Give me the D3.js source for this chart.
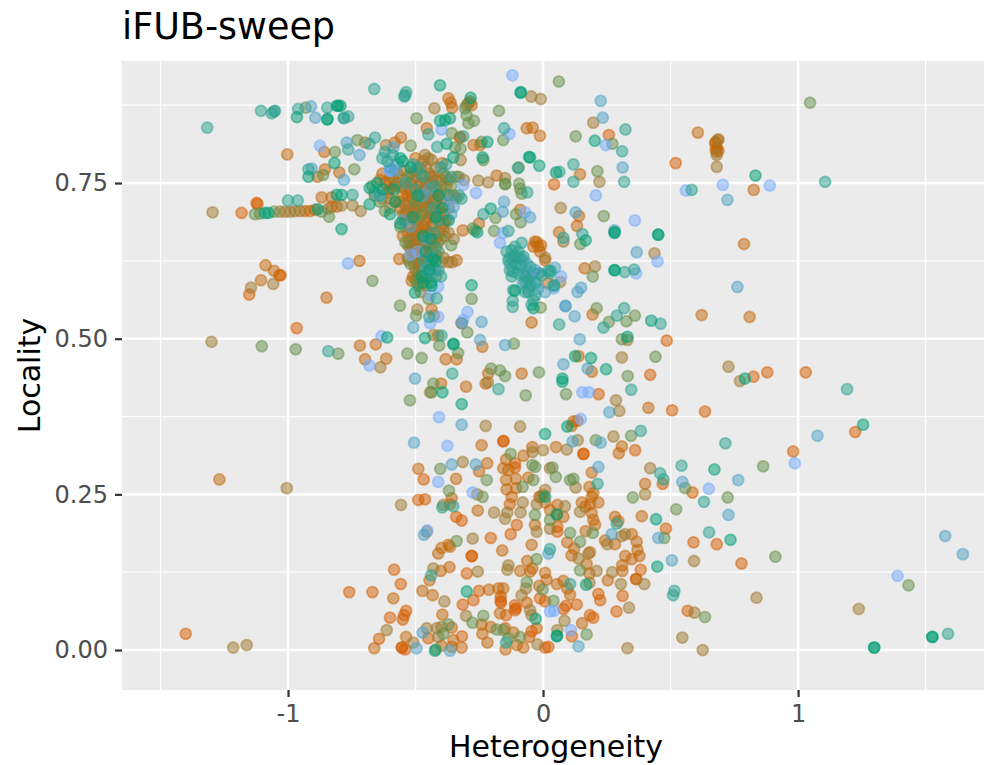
<!DOCTYPE html>
<html>
<head>
<meta charset="utf-8">
<script src="https://cdn.jsdelivr.net/npm/d3@7"></script>
<style>
  html, body { margin: 0; padding: 0; background: #fff; }
  text { font-family: "DejaVu Sans", sans-serif; }
</style>
</head>
<body>
<script>
// [heterogeneity, locality], one array per colour group
const bluePts = [[-.875,.81],[-.398,.836],[-.132,.829],[-.12,.923],[-.6,.77],[-.6,.77],[-.595,.772],[-.52,.635],[-.37,.72],[-.64,.73],[-.49,.64],[-.263,.734],[-.313,.747],[-.071,.703],[-.156,.67],[-.169,.654],[-.765,.621],[-.411,.584],[-.443,.57],[-.411,.535],[-.443,.525],[-.313,.53],[-.296,.543],[-.633,.504],[-.681,.457],[.246,.811],[.36,.69],[.449,.624],[.365,.605],[.071,.6],[.043,.581],[.56,.738],[.705,.747],[.889,.746],[.154,.414],[.18,.414],[.148,.371],[.987,.3],[.65,.259],[1.39,.119],[.043,.063],[.109,.032],[-.408,.374],[-.375,.328],[-.411,.27],[-.276,.253],[-.454,.192],[.027,.062],[.207,.73]];
const skyPts = [[-.91,.873],[-.893,.855],[-.77,.815],[-.72,.795],[-.587,.807],[-.781,.755],[-.907,.773],[-.153,.72],[-.158,.704],[-.051,.695],[-.6,.775],[-.58,.77],[-.57,.78],[-.47,.73],[-.45,.74],[-.52,.68],[-.55,.69],[-.46,.66],[-.44,.63],[-.46,.61],[-.44,.605],[-.42,.61],[-.36,.7],[-.35,.712],[-.117,.626],[-.077,.626],[-.064,.621],[-.077,.605],[-.058,.605],[-.038,.605],[-.018,.605],[-.025,.589],[.008,.575],[-.509,.518],[-.319,.525],[-.241,.527],[-.247,.498],[-.149,.49],[-.502,.436],[.226,.882],[.234,.855],[.312,.775],[.128,.703],[.28,.674],[.367,.639],[.149,.582],[.135,.575],[.088,.552],[.088,.553],[.124,.536],[.144,.499],[.08,.459],[.175,.452],[.723,.723],[.762,.583],[.26,.382],[1.076,.344],[.765,.273],[.546,.27],[.727,.217],[.505,.144],[1.577,.183],[1.646,.154],[.139,.006],[.217,.294],[.269,.186],[.452,.18],[.116,.335],[.226,.333],[-.319,.362],[-.506,.333],[-.358,.298],[-.264,.298],[-.467,.185],[-.472,.028],[-.496,.003],[-.365,-.001],[.021,.155],[.047,.614],[-.1,.63],[-.085,.615],[-.06,.61],[-.045,.6],[-.03,.61],[-.08,.59],[-.06,.58],[-.02,.58],[-.13,.62]];
const tealPts = [[-1.317,.839],[-1.106,.866],[-1.064,.862],[-1.051,.866],[-1.055,.865],[-.96,.869],[-.846,.871],[-.781,.855],[-.764,.857],[-.781,.854],[-.662,.901],[-.537,.896],[-.544,.889],[-.541,.891],[-.45,.828],[-.153,.838],[-.764,.804],[-.681,.813],[-.659,.823],[-.415,.808],[-.313,.825],[-.92,.772],[-.062,.735],[-.234,.7],[-.136,.673],[-.084,.654],[-1.0,.722],[-.962,.722],[-.747,.731],[-.143,.64],[-.123,.642],[-.11,.648],[-.097,.64],[-.136,.626],[-.11,.632],[-.077,.632],[-.119,.608],[-.123,.6],[-.071,.591],[-.058,.594],[-.117,.578],[-.058,.575],[-.038,.562],[-.045,.554],[-.119,.561],[-.119,.551],[-.005,.602],[.027,.605],[.021,.609],[-.66,.735],[-.64,.73],[-.62,.8],[-.63,.79],[-.61,.785],[-.59,.795],[-.51,.78],[-.49,.775],[-.47,.76],[-.43,.745],[-.4,.775],[-.38,.78],[-.36,.76],[-.43,.71],[-.41,.69],[-.43,.67],[-.42,.645],[-.47,.625],[-.45,.62],[-.5,.74],[-.54,.75],[-.37,.73],[-.33,.73],[-.32,.725],[-.41,.61],[-.4,.6],[-.417,.565],[-.446,.535],[-.398,.505],[-.842,.48],[-.356,.444],[.323,.836],[.31,.801],[.119,.78],[.064,.768],[.119,.752],[.318,.752],[.08,.662],[.154,.668],[.03,.609],[.32,.607],[.357,.611],[.043,.585],[.043,.586],[.318,.549],[.289,.537],[.237,.518],[.461,.524],[.063,.523],[.583,.739],[1.106,.752],[.346,.418],[1.192,.419],[.715,.332],[.543,.296],[.631,.238],[.651,.189],[.51,.088],[.515,.095],[1.588,.026],[.106,.106],[.459,.284],[.472,.274],[.214,.267],[.383,.352],[.289,.203],[-.175,.419],[-.395,.229],[-.352,.231],[-.439,.12],[-.145,.012],[.027,.162],[-.098,.774],[-.09,.618],[-.13,.63],[-.105,.62],[-.09,.63],[-.13,.61],[-.1,.605],[-.07,.6],[-.05,.615],[-.03,.59],[-.05,.585],[-.07,.575],[-.03,.57]];
const greenPts = [[-.965,.856],[-.846,.852],[-.845,.853],[-.803,.874],[-.794,.874],[-.809,.874],[-.404,.907],[-.088,.895],[-.087,.896],[-.284,.887],[-.404,.85],[-.384,.851],[-.365,.854],[-.378,.813],[-.352,.791],[-.218,.816],[-.237,.791],[-.051,.791],[-.015,.778],[-.818,.782],[-.92,.76],[-.205,.709],[-.258,.671],[-1.09,.702],[-1.077,.702],[-.884,.708],[-.809,.731],[-.79,.731],[-.79,.676],[-.28,.586],[-.502,.574],[-.437,.585],[-.463,.501],[-.352,.491],[-.351,.492],[-.611,.502],[-.11,.577],[-.038,.549],[-.68,.742],[-.68,.716],[-.585,.74],[-.58,.72],[-.63,.74],[-.56,.685],[-.51,.695],[-.47,.665],[-.43,.628],[-.445,.61],[-.42,.625],[-.395,.71],[-.42,.695],[-.37,.69],[-.46,.64],[-.475,.6],[-.44,.66],[-.56,.79],[-.55,.785],[-.44,.59],[-.47,.59],[-.41,.73],[-.49,.73],[-.52,.775],[-.6,.7],[-.65,.75],[.203,.818],[.051,.767],[.167,.658],[.28,.67],[.281,.671],[.451,.667],[.452,.667],[.28,.61],[.281,.61],[.424,.529],[.331,.503],[.126,.472],[.188,.469],[.247,.451],[.076,.436],[.792,.436],[.833,.762],[.076,.431],[1.255,.362],[.672,.29],[.735,.177],[.448,.134],[1.298,.004],[1.299,.004],[1.526,.021],[1.527,.021],[.054,.022],[.055,.023],[.169,.105],[.443,.21],[.054,.218],[.095,.359],[-.395,.414],[-.319,.395],[.008,.347],[-.299,.094],[-.029,.05],[-.424,-.001],[.008,.246],[-.055,.792]];
const sagePts = [[-.931,.871],[-.496,.854],[-.173,.866],[-.306,.87],[-.3,.859],[-.271,.85],[-.293,.846],[-.156,.819],[-.816,.8],[-.728,.819],[-.519,.81],[-.358,.83],[-.345,.807],[-.323,.805],[-.234,.787],[-.241,.816],[-.096,.775],[-.862,.763],[-.74,.772],[-.149,.748],[-.148,.749],[-.094,.749],[-.09,.741],[-.084,.733],[-.186,.694],[-.106,.7],[-.088,.687],[-.276,.677],[-.267,.674],[-.192,.673],[-1.13,.7],[-1.11,.701],[-1.055,.704],[-.868,.704],[-.839,.696],[-.669,.593],[-.496,.591],[-.28,.564],[-.45,.564],[-.561,.553],[-.498,.537],[-.297,.51],[-.114,.492],[-.407,.489],[-1.103,.488],[-.97,.483],[-.803,.476],[-.532,.476],[-.476,.469],[-.333,.477],[-.204,.452],[-.169,.449],[-.149,.44],[-.016,.446],[-.009,.55],[-.64,.72],[-.62,.705],[-.53,.76],[-.48,.765],[-.38,.76],[-.36,.745],[-.33,.76],[-.4,.745],[-.5,.72],[-.56,.68],[-.54,.655],[-.475,.7],[-.4,.66],[-.36,.65],[-.49,.605],[-.47,.61],[-.45,.6],[-.49,.585],[-.42,.6],[-.41,.64],[-.67,.745],[-.52,.62],[-.014,.605],[.062,.913],[.128,.825],[.272,.813],[.213,.769],[.238,.697],[.146,.652],[.195,.6],[.21,.549],[.36,.537],[.258,.527],[.327,.528],[.309,.499],[.441,.471],[.332,.44],[.09,.411],[1.047,.879],[.863,.295],[.557,.26],[.724,.245],[.522,.226],[.911,.15],[1.433,.104],[.635,.053],[.171,.025],[.041,.079],[.106,.273],[.119,.275],[.195,.188],[.106,.188],[.145,.174],[.145,.128],[.037,.293],[.05,.278],[.207,.337],[.345,.344],[.352,.245],[.476,.18],[-.522,.401],[-.437,.414],[-.43,.428],[-.068,.409],[-.127,.315],[-.403,.291],[-.221,.273],[-.038,.273],[-.369,.256],[-.042,.297],[-.031,.294],[-.08,.262],[-.237,.246],[-.032,.217],[-.339,.175],[-.025,.146],[-.064,.109],[-.002,.097],[-.277,.044],[-.234,.055],[-.182,.033],[-.156,.032],[-.371,.041],[-.391,.026],[-.42,.001],[-.136,.019],[-.09,.021],[.027,.209]];
const tanPts = [[-1.296,.703],[-1.3,.495],[-.426,.87],[-.046,.889],[-.009,.885],[-.286,.881],[-.3,.875],[-.698,.815],[-.616,.811],[-.463,.795],[-.45,.79],[-.437,.787],[-.323,.787],[-1.032,.704],[-1.012,.704],[-.992,.704],[-.973,.705],[-.953,.705],[-.842,.709],[-.79,.714],[-.747,.714],[-.715,.705],[-1.145,.582],[-1.058,.588],[-.528,.626],[-.398,.623],[-.493,.547],[-.428,.537],[-.43,.506],[-.411,.505],[-.638,.454],[-.254,.754],[-.215,.751],[-.56,.745],[-.51,.755],[-.46,.775],[-.42,.775],[-.31,.755],[-.44,.72],[-.54,.69],[-.52,.645],[-.5,.69],[-.43,.7],[-.37,.67],[-.35,.66],[-.47,.66],[-.48,.6],[-.43,.63],[-.5,.595],[-.46,.585],[-.39,.63],[-.6,.725],[-.66,.73],[-.53,.63],[-.34,.76],[-.356,.623],[.197,.847],[.221,.752],[.069,.71],[.08,.656],[.204,.616],[.067,.591],[.331,.498],[.309,.47],[.437,.637],[.688,.82],[.681,.795],[.681,.776],[.727,.455],[.772,.432],[.286,.401],[.299,.384],[.084,.047],[.056,.032],[-1.005,.26],[-1.215,.004],[-1.162,.008],[1.238,.066],[.837,.084],[.546,.02],[.626,0],[.331,.003],[.337,.068],[.594,.06],[.592,.143],[.182,.108],[.271,.125],[.305,.106],[.397,.106],[.252,.17],[.322,.186],[.309,.183],[.42,.292],[.4,.25],[.128,.261],[.145,.222],[.178,.155],[.139,.147],[.21,.127],[.086,.231],[.093,.322],[.136,.337],[.276,.343],[-.443,.414],[-.225,.36],[-.09,.359],[-.315,.302],[-.042,.318],[0,.321],[-.456,.19],[-.557,.233],[-.391,.233],[-.258,.25],[-.08,.237],[-.025,.234],[-.192,.221],[-.149,.211],[-.14,.221],[-.088,.221],[-.025,.19],[-.276,.179],[-.43,.131],[-.387,.078],[-.256,.126],[-.14,.129],[-.136,.136],[-.067,.099],[-.084,.088],[-.051,.064],[-.045,.056],[-.302,.055],[-.613,.032],[-.509,.012],[-.456,.035],[-.417,.035],[-.398,.037],[-.411,.021],[-.022,.009],[.008,.257],[-.009,.246],[.027,.195],[.027,.292],[.008,.63],[-.149,.758],[-.216,.43],[-.55,.7],[-.52,.71],[-.5,.7],[-.47,.715],[-.45,.725],[-.43,.725],[-.41,.71],[-.39,.675],[-.37,.71],[-.38,.73],[-.4,.735],[-.42,.755],[-.44,.76],[-.46,.76],[-.48,.775],[-.5,.77],[-.52,.765],[-.55,.755],[-.57,.75],[-.59,.76],[-.51,.64],[-.49,.635],[-.47,.605],[-.45,.61],[-.43,.61],[-.48,.575],[-.46,.6],[-.5,.655],[-.48,.66],[-.46,.65],[-.44,.68],[-.51,.67],[-.53,.65],[-.49,.69],[-.47,.725],[-.54,.715],[-.6,.71],[-.63,.725]];
const amberPts = [[-.371,.886],[-.362,.879],[-.356,.871],[-.28,.875],[-.293,.878],[-.456,.838],[-.064,.838],[-.041,.839],[-.012,.826],[-1.003,.796],[-.858,.8],[-.581,.815],[-.557,.823],[-.395,.782],[-.326,.823],[-.325,.824],[-.273,.811],[-.247,.811],[-.855,.772],[-.884,.76],[-.799,.767],[-.182,.762],[-.09,.707],[-.251,.685],[-.315,.674],[-.934,.705],[-.914,.705],[-.894,.707],[-.829,.712],[-.809,.712],[-.868,.727],[-.829,.727],[-1.088,.618],[-1.055,.609],[-1.106,.594],[-.849,.566],[-.72,.625],[-.564,.628],[-.339,.626],[-.371,.623],[-.515,.593],[-.437,.547],[-.319,.525],[-.045,.526],[-.238,.487],[-.718,.489],[-.656,.491],[-.698,.467],[-.615,.468],[-.382,.467],[-.339,.467],[-.215,.444],[-.084,.444],[-.032,.656],[-.012,.64],[-.018,.648],[-.038,.648],[.008,.626],[-.6,.76],[-.63,.765],[-.6,.75],[-.61,.735],[-.57,.765],[-.545,.77],[-.5,.79],[-.47,.785],[-.445,.765],[-.43,.76],[-.46,.75],[-.49,.745],[-.52,.74],[-.55,.73],[-.51,.725],[-.48,.72],[-.46,.71],[-.5,.705],[-.53,.705],[-.56,.71],[-.47,.73],[-.44,.735],[-.42,.72],[-.39,.7],[-.38,.69],[-.385,.665],[-.4,.68],[-.43,.685],[-.46,.69],[-.49,.68],[-.52,.68],[-.55,.665],[-.525,.66],[-.5,.665],[-.48,.65],[-.5,.645],[-.475,.635],[-.46,.62],[-.49,.62],[-.505,.63],[-.45,.67],[-.42,.66],[-.44,.65],[-.41,.7],[-.58,.72],[-.35,.73],[-.34,.726],[-.37,.755],[-.39,.765],[.145,.764],[.141,.697],[.133,.681],[.063,.671],[.163,.613],[.194,.539],[.139,.472],[.191,.447],[.607,.831],[.677,.816],[.685,.819],[.675,.814],[.681,.807],[.677,.804],[.688,.802],[.681,.8],[.826,.739],[.788,.652],[.622,.538],[.81,.535],[.413,.389],[-1.269,.274],[.153,.043],[.106,.089],[.095,.099],[.08,.111],[.054,.106],[.254,.112],[.365,.114],[.311,.127],[.31,.136],[.322,.151],[.348,.146],[.378,.151],[.37,.161],[.367,.174],[.348,.186],[.282,.17],[.243,.176],[.282,.214],[.295,.207],[.387,.215],[.4,.267],[.191,.285],[.182,.262],[.197,.252],[.191,.246],[.217,.237],[.152,.237],[.184,.234],[.165,.23],[.191,.22],[.197,.209],[.204,.201],[.167,.191],[.095,.173],[.122,.163],[.184,.157],[.112,.152],[.171,.138],[.182,.123],[.054,.217],[.08,.214],[.056,.233],[.051,.326],[.119,.367],[.135,.368],[.112,.36],[.309,.327],[.297,.316],[-.302,.423],[-.225,.428],[-.4,.428],[-.241,.329],[-.042,.326],[-.077,.312],[-.145,.306],[-.156,.292],[-.136,.289],[-.489,.291],[-.219,.3],[-.251,.287],[-.341,.275],[-.145,.273],[-.106,.275],[-.058,.277],[-.143,.258],[-.106,.26],[-.358,.244],[-.365,.234],[-.123,.246],[-.015,.246],[.001,.249],[-.256,.224],[-.032,.201],[-.365,.166],[-.371,.169],[-.398,.164],[-.411,.155],[-.045,.169],[-.16,.16],[-.401,.127],[-.367,.133],[-.445,.112],[-.587,.083],[-.473,.095],[-.433,.088],[-.09,.127],[-.051,.126],[-.042,.131],[-.062,.143],[.008,.124],[.014,.113],[-.015,.103],[-.212,.097],[-.175,.099],[-.156,.099],[-.169,.059],[-.395,.057],[-.241,.041],[-.205,.037],[-.116,.028],[-.238,.026],[-.218,.012],[-.662,.003],[-.537,.021],[-.358,.036],[-.352,.016],[-.398,.007],[-.358,.005],[-.319,.004],[-.147,.001],[-.103,.008],[-.077,.004],[.008,.237],[.027,.225],[-.024,.655],[-.008,.65],[.02,.589],[-.53,.72],[-.51,.71],[-.49,.71],[-.47,.7],[-.45,.695],[-.43,.695],[-.41,.67],[-.39,.685],[-.52,.695],[-.5,.675],[-.48,.67],[-.46,.675],[-.53,.67],[-.51,.65],[-.49,.655],[-.47,.645],[-.45,.64],[-.43,.64],[-.41,.655],[-.5,.61],[-.48,.615],[-.46,.63],[-.44,.62],[-.42,.635],[-.51,.6],[-.48,.59],[-.49,.6],[-.505,.62],[-.52,.65],[-.54,.7],[-.56,.72],[-.54,.74],[-.52,.75],[-.5,.76],[-.48,.75],[-.46,.74],[-.44,.75],[-.42,.74],[-.4,.755],[-.38,.745],[-.4,.725],[-.42,.705],[-.44,.71],[-.46,.72],[-.48,.735],[-.5,.73],[-.53,.73],[-.58,.745],[-.6,.74],[-.62,.75],[-.64,.755],[-.47,.68],[-.44,.67],[-.43,.655],[-.39,.715]];
const orangePts = [[-1.182,.702],[-1.123,.718],[-1.12,.716],[-1.034,.602],[-1.029,.602],[-1.152,.571],[-.966,.517],[.258,.827],[.043,.748],[.485,.497],[.42,.442],[.825,.439],[.879,.446],[1.03,.446],[.52,.782],[.218,.411],[.506,.385],[.635,.383],[1.224,.35],[.981,.319],[.586,.253],[.59,.173],[.681,.17],[.778,.139],[.113,.022],[.184,.056],[.197,.052],[.288,.062],[.567,.063],[.312,.087],[.217,.09],[.224,.08],[.132,.073],[.09,.071],[.08,.066],[.383,.129],[.365,.114],[.469,.267],[.482,.195],[.158,.315],[.159,.315],[.361,.321],[.056,.198],[.056,.19],[-1.401,.026],[-.156,.335],[-.155,.336],[-.11,.3],[-.11,.293],[-.468,.274],[-.489,.241],[-.463,.242],[-.13,.234],[-.341,.214],[-.319,.208],[-.103,.201],[-.127,.186],[-.205,.18],[-.28,.151],[-.279,.151],[-.584,.129],[-.558,.106],[-.76,.093],[-.669,.093],[-.299,.123],[-.251,.095],[-.273,.08],[-.315,.073],[-.166,.086],[-.166,.079],[-.165,.076],[-.11,.072],[-.11,.064],[-.106,.067],[-.064,.076],[-.012,.083],[.008,.078],[-.145,.056],[-.537,.063],[-.545,.056],[-.55,.049],[-.6,.052],[-.149,.035],[-.025,.035],[-.045,.03],[-.054,.021],[-.643,.018],[-.554,.004],[-.553,.004],[-.541,.001],[-.45,.019],[-.318,.022],[.008,.004],[.021,.005]];

// bottom to top, the cool colours sit over the tan blob like in the original
const seriesList = [orangePts, amberPts, tanPts, sagePts, bluePts, skyPts, tealPts, greenPts];
const seriesColors = ["#D55E00", "#C4680A", "#A07A30", "#66904A", "#74ABFD", "#50A2C6", "#2CA290", "#009E73"];

const xTicks = [-1, 0, 1];
const xMinor = [-1.5, -0.5, 0.5, 1.5];
const yTicks = [0, 0.25, 0.5, 0.75];
const yMinor = [0.125, 0.375, 0.625, 0.875];

const margin = { top: 61, right: 0, bottom: 75, left: 122 };
const totalWidth = 984;
const totalHeight = 765;
const width = totalWidth - margin.left - margin.right;
const height = totalHeight - margin.top - margin.bottom;

const svg = d3.select("body")
  .append("svg")
  .attr("width", totalWidth)
  .attr("height", totalHeight)
  .style("display", "block")
  .append("g")
  .attr("transform", `translate(${margin.left}, ${margin.top})`);

const xScale = d3.scaleLinear().domain([-1.651, 1.729]).range([0, width]);
const yScale = d3.scaleLinear().domain([-0.0642, 0.946]).range([height, 0]);

svg.append("rect")
  .attr("width", width)
  .attr("height", height)
  .attr("fill", "#EBEBEB");

// gridlines, minor first
const grid = svg.append("g");
grid.selectAll(".xminor").data(xMinor).enter().append("line")
  .attr("x1", d => xScale(d)).attr("x2", d => xScale(d))
  .attr("y1", 0).attr("y2", height)
  .attr("stroke", "#fff").attr("stroke-width", 1.3);
grid.selectAll(".yminor").data(yMinor).enter().append("line")
  .attr("y1", d => yScale(d)).attr("y2", d => yScale(d))
  .attr("x1", 0).attr("x2", width)
  .attr("stroke", "#fff").attr("stroke-width", 1.3);
grid.selectAll(".xmajor").data(xTicks).enter().append("line")
  .attr("x1", d => xScale(d)).attr("x2", d => xScale(d))
  .attr("y1", 0).attr("y2", height)
  .attr("stroke", "#fff").attr("stroke-width", 2.6);
grid.selectAll(".ymajor").data(yTicks).enter().append("line")
  .attr("y1", d => yScale(d)).attr("y2", d => yScale(d))
  .attr("x1", 0).attr("x2", width)
  .attr("stroke", "#fff").attr("stroke-width", 2.6);

seriesList.forEach((pts, i) => {
  svg.append("g").selectAll("circle")
    .data(pts)
    .enter()
    .append("circle")
    .attr("cx", d => xScale(d[0]))
    .attr("cy", d => yScale(d[1]))
    .attr("r", 5.5)
    .attr("fill", seriesColors[i])
    .attr("fill-opacity", 0.5)
    .attr("stroke", seriesColors[i])
    .attr("stroke-opacity", 0.5)
    .attr("stroke-width", 1.8);
});

const xAxis = svg.append("g")
  .attr("transform", `translate(0, ${height})`)
  .call(d3.axisBottom(xScale).tickValues(xTicks).tickFormat(d3.format("d")).tickSize(7).tickPadding(8));
const yAxis = svg.append("g")
  .call(d3.axisLeft(yScale).tickValues(yTicks).tickFormat(d3.format(".2f")).tickSize(7).tickPadding(7));

[xAxis, yAxis].forEach(ax => {
  ax.select(".domain").remove();
  ax.selectAll("line").attr("stroke", "#333333").attr("stroke-width", 2.2);
  ax.selectAll("text")
    .attr("fill", "#4D4D4D")
    .style("font-family", '"DejaVu Sans", sans-serif')
    .style("font-size", "24px");
});
// ggplot prints a plain hyphen on the negative tick
xAxis.selectAll("text").text(d => String(d));

svg.append("text")
  .attr("x", width / 2 + 3)
  .attr("y", height + 67)
  .attr("text-anchor", "middle")
  .attr("fill", "black")
  .style("font-size", "30px")
  .text("Heterogeneity");

svg.append("text")
  .attr("transform", "rotate(-90)")
  .attr("x", -height / 2)
  .attr("y", -82)
  .attr("text-anchor", "middle")
  .attr("fill", "black")
  .style("font-size", "30px")
  .text("Locality");

svg.append("text")
  .attr("x", 0)
  .attr("y", -22)
  .attr("fill", "black")
  .style("font-size", "36.5px")
  .text("iFUB-sweep");
</script>
</body>
</html>
